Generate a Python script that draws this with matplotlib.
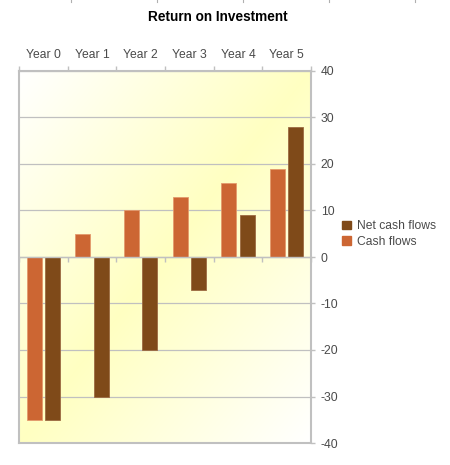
import matplotlib
matplotlib.use("Agg")
import matplotlib.pyplot as plt
import numpy as np
from matplotlib.lines import Line2D
from matplotlib.patches import Patch

plt.rcParams["font.family"] = ["Liberation Sans", "DejaVu Sans"]
plt.rcParams["axes.unicode_minus"] = False

years = ["Year 0", "Year 1", "Year 2", "Year 3", "Year 4", "Year 5"]
cash_flows = [-35, 5, 10, 13, 16, 19]
net_cash_flows = [-35, -30, -20, -7, 9, 28]

CASH_COLOR = "#cc6633"
NET_COLOR = "#7f4a19"
AXIS_GRAY = "#c0c0c0"
TEXT_GRAY = "#4a4a4a"

fig = plt.figure(figsize=(4.5, 4.65), dpi=100)
ax = fig.add_axes([19 / 450, 22 / 465, 292 / 450, 372 / 465])

# diagonal white -> yellow -> white background
n = 200
u = np.linspace(0, 1, n)
uu, vv = np.meshgrid(u, u)
t = 1 - np.abs((uu + vv) - 1)
yellow = np.array([1.0, 1.0, 0.76])
white = np.array([1.0, 1.0, 1.0])
bg = white[None, None, :] * (1 - t[..., None]) + yellow[None, None, :] * t[..., None]
ax.imshow(bg, extent=[0, 1, 0, 1], transform=ax.transAxes, aspect="auto",
          zorder=0, interpolation="bilinear")

x = np.arange(len(years))
offset = 0.19
width = 0.31
ax.bar(x - offset, cash_flows, width, color=CASH_COLOR, edgecolor="#e39a6c",
       linewidth=0.6, zorder=3)
ax.bar(x + offset, net_cash_flows, width, color=NET_COLOR, edgecolor="#9c6a42",
       linewidth=0.6, zorder=3)

ax.set_xlim(-0.5, len(years) - 0.5)
ax.set_ylim(-40, 40)
ax.set_yticks(np.arange(-40, 41, 10))
ax.yaxis.grid(True, color=AXIS_GRAY, linewidth=0.9, zorder=1)
ax.set_axisbelow(True)

# category labels on top, ticks at category boundaries
bounds = np.arange(len(years) + 1) - 0.5
ax.set_xticks(bounds)
ax.set_xticks(x, minor=True)
ax.set_xticklabels(years, minor=True)
ax.tick_params(axis="x", which="major", top=True, bottom=True, labeltop=False,
               labelbottom=False, direction="out", length=3.5, width=1,
               color=AXIS_GRAY)
ax.tick_params(axis="x", which="minor", top=False, bottom=False, labeltop=True,
               labelbottom=False, length=0, pad=7, labelsize=8.7,
               labelcolor=TEXT_GRAY)

ax.yaxis.tick_right()
ax.tick_params(axis="y", direction="out", length=3, width=1, color=AXIS_GRAY,
               pad=4, labelsize=8.7, labelcolor=TEXT_GRAY)

for side in ["top", "left", "right", "bottom"]:
    ax.spines[side].set_color(AXIS_GRAY)
    ax.spines[side].set_linewidth(1.5)
    ax.spines[side].set_zorder(4)
ax.spines["bottom"].set_position(("data", 0))
ax.spines["bottom"].set_linewidth(1.0)
ax.axhline(-40, color=AXIS_GRAY, linewidth=1.5, clip_on=False, zorder=4)

fig.text(218 / 450, 1 - 17 / 465, "Return on Investment", ha="center",
         va="center", fontsize=9.8, fontweight="bold", color="black")

handles = [Patch(facecolor=NET_COLOR, edgecolor=NET_COLOR),
           Patch(facecolor=CASH_COLOR, edgecolor=CASH_COLOR)]
fig.legend(handles, ["Net cash flows", "Cash flows"], loc="center left",
           bbox_to_anchor=(331 / 450, 1 - 234 / 465), frameon=False,
           fontsize=8.7, labelcolor=TEXT_GRAY, handlelength=0.75,
           handleheight=0.75, handletextpad=0.5, labelspacing=0.3)

# small marks along the top edge
for px in [70.5, 156.5, 242.5, 328.5, 414.5]:
    fig.add_artist(Line2D([px / 450, px / 450], [1, 1 - 2 / 465],
                          color="#b0b0b0", linewidth=0.8))

fig.savefig("out.png", dpi=100)
